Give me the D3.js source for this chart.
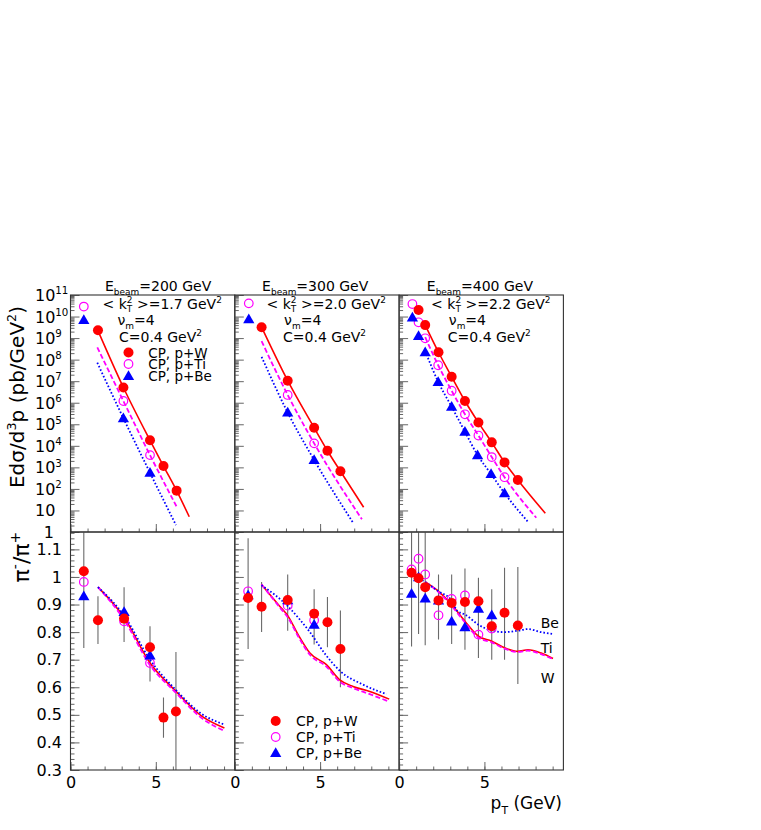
<!DOCTYPE html>
<html>
<head>
<meta charset="utf-8">
<title>pi-/pi+ ratio</title>
<script src="https://cdn.jsdelivr.net/npm/d3@7"></script>
<style>
  body { margin: 0; background: #fff; }
  text { font-family: "DejaVu Sans", sans-serif; }
</style>
</head>
<body>
<svg width="761" height="830" id="mainsvg"></svg>
<script>
// ---------- data ----------
const beamEnergies = ['200', '300', '400'];
const kt2Values = ['1.7', '2.0', '2.2'];
const xMajorTicks = [0, 5];

// top row: E d3sigma/d3p (pb/GeV^2), pairs [pT, value]
const topW200 = [[1.61, 2.3e9], [3.1, 5.1e6], [4.66, 1.8e4], [5.45, 1.15e3], [6.22, 83]];
const topTi200 = [[0.78, 2.9e10], [3.1, 1.2e6], [4.66, 3.7e3]];
const topBe200 = [[0.78, 6.9e9], [3.1, 1.9e5], [4.66, 560]];
const fitTopW200 = [[1.6, 2.3e9], [3.1, 5.1e6], [4.66, 1.8e4], [5.45, 1.15e3], [6.22, 83], [6.96, 5.1]];
const fitTopTi200 = [[1.57, 3.7e8], [3.1, 1.2e6], [4.66, 3.7e3], [6.22, 15]];
const fitTopBe200 = [[1.57, 7.2e7], [3.1, 1.9e5], [4.66, 560], [6.18, 2.1]];

const topW300 = [[1.57, 3.2e9], [3.1, 1.05e7], [4.65, 6.9e4], [5.43, 5.9e3], [6.19, 660]];
const topTi300 = [[0.82, 4.1e10], [3.1, 2.3e6], [4.65, 1.3e4]];
const topBe300 = [[0.82, 7.6e9], [3.1, 3.5e5], [4.65, 2.2e3]];
const fitTopW300 = [[1.57, 3.2e9], [3.1, 1.05e7], [4.65, 6.9e4], [5.43, 5.9e3], [6.19, 660], [7.55, 14]];
const fitTopTi300 = [[1.57, 7.2e8], [3.1, 2.3e6], [4.65, 1.3e4], [7.45, 3.9]];
const fitTopBe300 = [[1.57, 1.35e8], [3.1, 3.5e5], [4.65, 2.2e3], [6.96, 2.5]];

const topW400 = [[1.14, 2.0e10], [1.53, 4.0e9], [2.31, 2.2e8], [3.08, 1.6e7], [3.86, 1.2e6], [4.65, 1.2e5], [5.43, 1.45e4], [6.18, 1.7e3], [6.96, 260]];
const topTi400 = [[0.78, 3.8e10], [1.14, 5.4e9], [1.53, 9.8e8], [2.29, 5.5e7], [3.08, 3.6e6], [3.86, 2.9e5], [4.65, 3.0e4], [5.43, 3.0e3], [6.18, 350]];
const topBe400 = [[0.78, 9.1e9], [1.14, 1.26e9], [1.53, 2.2e8], [2.29, 9.3e6], [3.08, 6.5e5], [3.86, 4.5e4], [4.6, 3.7e3], [5.39, 490], [6.18, 63]];
const fitTopW400 = [[1.53, 4.0e9], [2.31, 2.2e8], [3.08, 1.6e7], [3.86, 1.2e6], [4.65, 1.2e5], [5.43, 1.45e4], [6.18, 1.7e3], [6.96, 260], [8.57, 7.4]];
const fitTopTi400 = [[1.53, 1.1e9], [2.29, 5.5e7], [3.08, 3.6e6], [3.86, 2.9e5], [4.65, 3.0e4], [5.43, 3.0e3], [6.18, 350], [8.04, 4.6]];
const fitTopBe400 = [[1.53, 2.5e8], [2.29, 9.3e6], [3.08, 6.5e5], [3.86, 4.5e4], [4.6, 3.7e3], [5.39, 490], [6.18, 63], [7.55, 3.0]];

// bottom row: pi-/pi+ ratio, pairs [pT, ratio]; error bars [pT, low, high]
const ratW200 = [[0.78, 1.021], [1.61, 0.843], [3.14, 0.849], [4.66, 0.745], [5.45, 0.49], [6.18, 0.512]];
const ratTi200 = [[0.78, 0.982], [3.14, 0.839], [4.66, 0.688]];
const ratBe200 = [[0.78, 0.93], [3.14, 0.873], [4.66, 0.715]];
const errBars200 = [[0.78, 0.742, 1.3], [1.61, 0.757, 0.93], [3.14, 0.764, 0.963], [4.66, 0.621, 0.821], [5.45, 0.417, 0.563], [6.18, 0.25, 0.728]];
const fitRatW200 = [[1.61, 0.963], [3.14, 0.853], [4.66, 0.688], [6.18, 0.585], [7.65, 0.497], [9.02, 0.452]];
const fitRatTi200 = [[1.61, 0.963], [3.14, 0.845], [4.66, 0.68], [6.18, 0.58], [7.65, 0.49], [9.02, 0.442]];
const fitRatBe200 = [[1.61, 0.963], [3.14, 0.86], [4.66, 0.70], [6.18, 0.59], [7.65, 0.505], [9.02, 0.465]];

const ratW300 = [[0.78, 0.924], [1.57, 0.892], [3.1, 0.916], [4.65, 0.867], [5.43, 0.836], [6.19, 0.739]];
const ratTi300 = [[0.78, 0.948], [3.1, 0.896], [4.65, 0.843]];
const ratBe300 = [[0.78, 0.934], [3.1, 0.916], [4.65, 0.827]];
const errBars300 = [[0.78, 0.739, 1.14], [1.57, 0.8, 0.982], [3.1, 0.805, 1.009], [4.65, 0.755, 0.955], [5.43, 0.745, 0.927], [6.19, 0.6, 0.878]];
const fitRatW300 = [[1.56, 0.973], [2.63, 0.894], [3.12, 0.858], [3.71, 0.791], [4.4, 0.724], [5.37, 0.682], [6.15, 0.627], [6.93, 0.603], [7.91, 0.585], [9.05, 0.557]];
const fitRatTi300 = [[1.56, 0.973], [2.63, 0.89], [3.12, 0.852], [3.71, 0.785], [4.4, 0.718], [5.37, 0.675], [6.15, 0.62], [6.93, 0.597], [7.91, 0.575], [9.05, 0.548]];
const fitRatBe300 = [[1.56, 0.97], [3.09, 0.895], [3.75, 0.85], [4.4, 0.8], [5.3, 0.72], [6.15, 0.66], [7.5, 0.61], [8.89, 0.575]];

const ratW400 = [[0.73, 1.015], [1.14, 0.995], [1.53, 0.963], [2.31, 0.915], [3.08, 0.906], [3.86, 0.909], [4.65, 0.912], [5.43, 0.821], [6.18, 0.87], [6.96, 0.824]];
const ratTi400 = [[0.73, 1.027], [1.14, 1.066], [1.53, 1.009], [2.31, 0.861], [3.08, 0.92], [3.86, 0.933], [4.65, 0.791], [5.43, 0.813]];
const ratBe400 = [[0.73, 0.939], [1.14, 0.999], [1.53, 0.922], [2.31, 0.915], [3.08, 0.839], [3.86, 0.818], [4.65, 0.885], [5.43, 0.861]];
const errBars400 = [[0.73, 0.748, 1.3], [1.14, 0.793, 1.3], [1.53, 0.752, 1.3], [2.31, 0.773, 1.009], [3.08, 0.757, 1.009], [3.86, 0.736, 1.031], [4.65, 0.706, 0.997], [5.43, 0.7, 0.955], [6.18, 0.7, 1.033], [6.96, 0.612, 1.036]];
const fitRatW400 = [[1.53, 0.982], [2.31, 0.948], [3.08, 0.9], [3.86, 0.839], [4.65, 0.785], [5.43, 0.767], [6.18, 0.743], [6.96, 0.73], [7.55, 0.736], [8.33, 0.724], [9.02, 0.704]];
const fitRatTi400 = [[1.53, 0.982], [2.31, 0.945], [3.08, 0.895], [3.86, 0.835], [4.65, 0.78], [5.43, 0.763], [6.18, 0.74], [6.96, 0.728], [7.55, 0.733], [8.33, 0.72], [9.02, 0.702]];
const fitRatBe400 = [[1.53, 0.982], [2.31, 0.948], [3.08, 0.915], [3.42, 0.876], [3.86, 0.864], [4.65, 0.827], [5.43, 0.805], [6.18, 0.8], [6.96, 0.805], [7.55, 0.811], [8.33, 0.8], [9.02, 0.793]];

const seriesNames = ['W', 'Ti', 'Be'];
const legendLabels = ['CP, p+W', 'CP, p+Ti', 'CP, p+Be'];

// tables for the panels
const topPanels = [
  {pts: [topW200, topTi200, topBe200], fits: [fitTopW200, fitTopTi200, fitTopBe200]},
  {pts: [topW300, topTi300, topBe300], fits: [fitTopW300, fitTopTi300, fitTopBe300]},
  {pts: [topW400, topTi400, topBe400], fits: [fitTopW400, fitTopTi400, fitTopBe400]}
];
const bottomPanels = [
  {pts: [ratW200, ratTi200, ratBe200], fits: [fitRatW200, fitRatTi200, fitRatBe200], err: errBars200},
  {pts: [ratW300, ratTi300, ratBe300], fits: [fitRatW300, fitRatTi300, fitRatBe300], err: errBars300},
  {pts: [ratW400, ratTi400, ratBe400], fits: [fitRatW400, fitRatTi400, fitRatBe400], err: errBars400}
];

// ---------- layout ----------
const svg = d3.select('#mainsvg');
const left = 70.5, panelW = 164.3;
const yTop = 295, yMid = 532, yBot = 770;
const color = {W: '#ff0000', Ti: '#ff00ff', Be: '#0000ff'};
const dash = {W: null, Ti: '5,2.5', Be: '1.6,2'};
const lineW = {W: 1.6, Ti: 1.8, Be: 1.8};
const tickColor = '#666';

const xScales = [0, 1, 2].map(i => d3.scaleLinear().domain([0, 9.63]).range([left + i * panelW, left + (i + 1) * panelW]));
const yLog = d3.scaleLog().domain([1, 1e11]).range([yMid, yTop]);
const yLin = d3.scaleLinear().domain([0.3, 1.163]).range([yBot, yMid]);

const logMajor = d3.range(0, 12).map(n => Math.pow(10, n));
const logMinor = [];
d3.range(0, 11).forEach(n => d3.range(2, 10).forEach(k => logMinor.push(k * Math.pow(10, n))));
const linMajor = d3.range(3, 12).map(d => d / 10);
const linMinor = d3.range(15, 59).map(d => d / 50);
const xMinor = d3.range(0, 10);

// rich text helper: parts = [[text, mode, dx]]
function rich(g, x, y, parts, fs, anchor) {
  const t = g.append('text').attr('x', x).attr('y', y).attr('font-size', fs)
    .attr('text-anchor', anchor || 'start').attr('fill', '#000');
  let cur = 0;
  parts.forEach(([s, mode, dx]) => {
    const target = mode === 'sub' ? 0.28 * fs : mode === 'sup' ? -0.42 * fs : 0;
    const sp = t.append('tspan').text(s).attr('dy', target - cur)
      .attr('font-size', mode ? 0.64 * fs : fs);
    if (dx) sp.attr('dx', dx);
    cur = target;
  });
  return t;
}

const defs = svg.append('defs');

function marker(g, name, x, y) {
  if (name === 'W') {
    g.append('circle').attr('cx', x).attr('cy', y).attr('r', 5).attr('fill', color.W);
  } else if (name === 'Ti') {
    g.append('circle').attr('cx', x).attr('cy', y).attr('r', 4.3).attr('fill', 'none')
      .attr('stroke', color.Ti).attr('stroke-width', 1.2);
  } else {
    g.append('path').attr('d', d3.symbol().type(d3.symbolTriangle).size(55)())
      .attr('transform', `translate(${x},${y + 0.8})`).attr('fill', color.Be);
  }
}

function drawPanel(i, panel, yScale, row) {
  const x = xScales[i];
  const y0 = row === 0 ? yTop : yMid, y1 = row === 0 ? yMid : yBot;
  const id = `clip${row}${i}`;
  defs.append('clipPath').attr('id', id).append('rect')
    .attr('x', x.range()[0]).attr('y', y0).attr('width', panelW).attr('height', y1 - y0);
  const g = svg.append('g').attr('clip-path', `url(#${id})`);

  // error bars
  if (panel.err) {
    g.selectAll('.err').data(panel.err).join('line')
      .attr('x1', d => x(d[0])).attr('x2', d => x(d[0]))
      .attr('y1', d => yScale(d[1])).attr('y2', d => yScale(d[2]))
      .attr('stroke', '#6a6a6a').attr('stroke-width', 1.1);
  }
  // model curves
  const line = d3.line().x(d => x(d[0])).y(d => yScale(d[1])).curve(d3.curveMonotoneX);
  panel.fits.forEach((f, k) => {
    const nm = seriesNames[k];
    g.append('path').attr('d', line(f)).attr('fill', 'none')
      .attr('stroke', color[nm]).attr('stroke-width', lineW[nm])
      .attr('stroke-dasharray', dash[nm]);
  });
  // data points (Ti, Be, then W on top)
  [1, 2, 0].forEach(k => {
    panel.pts[k].forEach(d => marker(g, seriesNames[k], x(d[0]), yScale(d[1])));
  });

  // ticks on the left edge (inward)
  const major = row === 0 ? logMajor : linMajor;
  const minor = row === 0 ? logMinor : linMinor;
  [[minor, 4], [major, 9]].forEach(([vals, len]) => {
    svg.append('g').attr('transform', `translate(${x.range()[0]},0)`)
      .call(d3.axisRight(yScale).tickValues(vals).tickSize(len).tickFormat(''))
      .call(a => a.select('.domain').remove())
      .call(a => a.selectAll('line').attr('stroke', tickColor));
  });
  // ticks on the bottom edge (inward)
  [[xMinor, 3.5], [xMajorTicks, 8]].forEach(([vals, len]) => {
    svg.append('g').attr('transform', `translate(0,${y1})`)
      .call(d3.axisTop(x).tickValues(vals).tickSize(len).tickFormat(''))
      .call(a => a.select('.domain').remove())
      .call(a => a.selectAll('line').attr('stroke', tickColor));
  });
  // frame
  svg.append('rect').attr('x', x.range()[0]).attr('y', y0).attr('width', panelW).attr('height', y1 - y0)
    .attr('fill', 'none').attr('stroke', '#333').attr('stroke-width', 1.1);
}

topPanels.forEach((p, i) => drawPanel(i, p, yLog, 0));
bottomPanels.forEach((p, i) => drawPanel(i, p, yLin, 1));

// ---------- axis labels ----------
// log labels for the top row
logMajor.forEach((v, n) => {
  const yy = yLog(v) + 6;
  if (n === 0) rich(svg, 54, yy, [['1']], 16, 'end');
  else if (n === 1) rich(svg, 35, yy, [['10']], 16);
  else rich(svg, 35, yy, [['10'], [String(n), 'sup']], 16);
});
// linear labels for the bottom row
svg.append('g').attr('transform', `translate(${left},0)`)
  .call(d3.axisLeft(yLin).tickValues(linMajor).tickSize(0).tickPadding(8.5).tickFormat(d3.format('~g')))
  .call(a => a.select('.domain').remove())
  .call(a => a.selectAll('text').attr('font-size', 16).attr('font-family', '"DejaVu Sans", sans-serif').attr('fill', '#000'));
// x labels
xScales.forEach(x => {
  svg.append('g').attr('transform', `translate(0,${yBot})`)
    .call(d3.axisBottom(x).tickValues(xMajorTicks).tickSize(0).tickPadding(7).tickFormat(d3.format('d')))
    .call(a => a.select('.domain').remove())
    .call(a => a.selectAll('text').attr('font-size', 16).attr('font-family', '"DejaVu Sans", sans-serif').attr('fill', '#000'));
});

// axis titles
rich(svg, 0, 0, [['Edσ/d'], ['3', 'sup'], ['p (pb/GeV'], ['2', 'sup'], [')']], 20, 'middle')
  .attr('transform', 'translate(24,397) rotate(-90)');
rich(svg, 0, 0, [['π'], ['-', 'sup'], ['/π'], ['+', 'sup']], 22, 'middle')
  .attr('transform', 'translate(29,557) rotate(-90)');
rich(svg, 562, 809, [['p'], ['T', 'sub'], [' (GeV)']], 17, 'end');

// ---------- panel annotations ----------
const titleDx = [34.5, 27.3, 27.7];
const infoDx = [[32, 47, 48.5], [31.7, 49.3, 48.3], [32, 49.7, 48.7]];
beamEnergies.forEach((e, i) => {
  const x0 = xScales[i].range()[0];
  rich(svg, x0 + titleDx[i], 291, [['E'], ['beam', 'sub'], [`=${e} GeV`]], 14);
  rich(svg, x0 + infoDx[i][0], 308.5, [['< k'], ['T', 'sub'], ['2', 'sup', -5.5], [` >=${kt2Values[i]} GeV`], ['2', 'sup']], 14);
  rich(svg, x0 + infoDx[i][1], 325, [['ν'], ['m', 'sub'], ['=4']], 14);
  rich(svg, x0 + infoDx[i][2], 341.5, [['C=0.4 GeV'], ['2', 'sup']], 14);
});

// legend in the first top panel
[352.5, 364, 376].forEach((yy, k) => {
  marker(svg, seriesNames[k], 128.5, yy);
  rich(svg, 148.3, yy + 5, [[legendLabels[k]]], 13.5);
});
// legend in the second bottom panel
[721, 737, 753].forEach((yy, k) => {
  marker(svg, seriesNames[k], 275.7, yy);
  rich(svg, 296, yy + 5, [[legendLabels[k]]], 14);
});
// curve labels in the third bottom panel
rich(svg, 540.7, 627.7, [['Be']], 14);
rich(svg, 540.7, 653, [['Ti']], 14);
rich(svg, 540.7, 683, [['W']], 14);
</script>
</body>
</html>
